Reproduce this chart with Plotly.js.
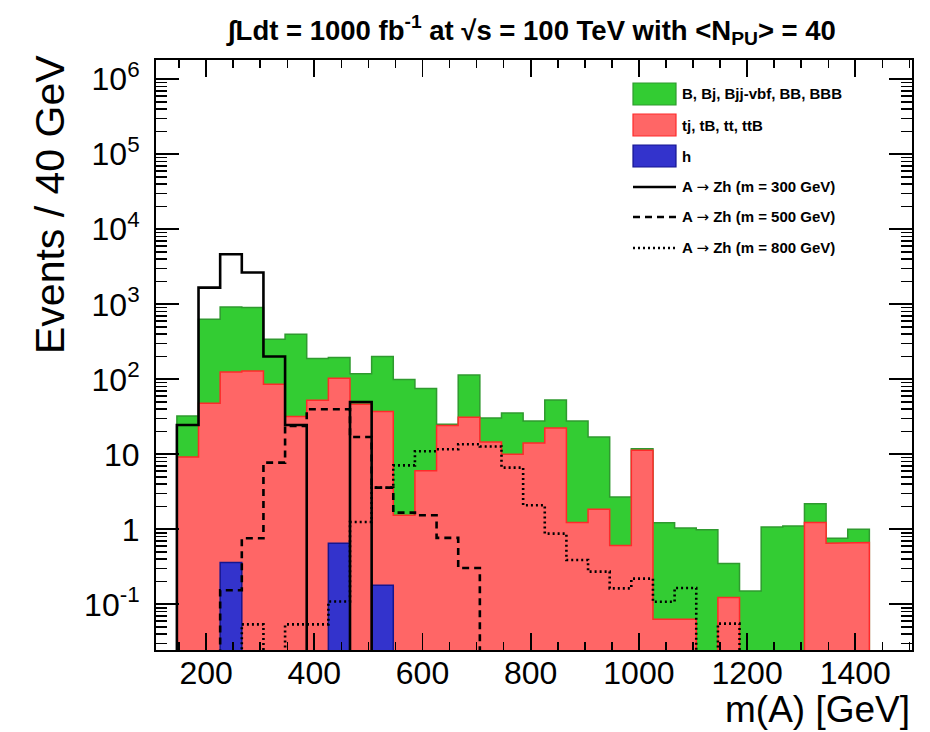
<!DOCTYPE html>
<html><head><meta charset="utf-8">
<script src="https://cdn.plot.ly/plotly-3.0.1.min.js"></script>
<style>html,body{margin:0;padding:0;background:#fff}</style>
</head><body><div id="chart" style="width:930px;height:732px"></div>
<script>
// ---- data ----
const binLow = 146, binWidth = 40;
const bkgB   = [23.2, 583, 795, 775, 255, 366, 136.5, 92, 72.6, 163.9, 97.5, 69.2, 0.8, 82.9, 15.9, 25.5, 13.6, 30.6, 26.6, 15.15, 2.09, 0.6, 1.16, 0.98, 0.99, 0.226, 0.150, 1.07, 1.11, 0.97, 0.11, 0.335];
const bkgTop = [9.2, 47.9, 124.6, 129, 85.8, 31.8, 52.5, 102.4, 46.4, 36.9, 1.54, 6.03, 24.3, 31.1, 14.6, 10, 14.2, 22.4, 1.23, 1.85, 0.61, 11.3, 0.063, 0.063, 0, 0.123, 0, 0, 0, 1.23, 0.65, 0.665];
const bkgH   = [0, 0, 0.36, 0, 0, 0, 0, 0.65, 0, 0.179, 0, 0, 0, 0, 0, 0, 0, 0, 0, 0, 0, 0, 0, 0, 0, 0, 0, 0, 0, 0, 0, 0];
const sig300 = [24.6, 1670, 4640, 2650, 201, 24.6, 0, 0, 49.8, 0, 0, 0, 0, 0, 0, 0, 0, 0, 0, 0, 0, 0, 0, 0, 0, 0, 0, 0, 0, 0, 0, 0];
const sig500 = [0, 0, 0.154, 0.759, 7.75, 23.8, 39.8, 39.8, 17, 3.6, 1.67, 1.54, 0.77, 0.305, 0, 0, 0, 0, 0, 0, 0, 0, 0, 0, 0, 0, 0, 0, 0, 0, 0, 0];
const sig800 = [0, 0, 0, 0.054, 0, 0.054, 0.054, 0.109, 1.25, 3.6, 7.13, 10.96, 11.66, 13.6, 12.7, 6.65, 2.09, 0.877, 0.39, 0.273, 0.163, 0.22, 0.108, 0.165, 0, 0.0553, 0, 0, 0, 0, 0, 0];
const legendLabels = ['B, Bj, Bjj-vbf, BB, BBB', 'tj, tB, tt, ttB', 'h',
  'A \u2192 Zh (m = 300 GeV)', 'A \u2192 Zh (m = 500 GeV)', 'A \u2192 Zh (m = 800 GeV)'];
const xTickVals = [200, 400, 600, 800, 1000, 1200, 1400];
const xTickText = ['200', '400', '600', '800', '1000', '1200', '1400'];
const yTickVals = [0.1, 1, 10, 100, 1e3, 1e4, 1e5, 1e6];
const yTickText = ['10<sup>-1</sup>', '1', '10', '10<sup>2</sup>', '10<sup>3</sup>', '10<sup>4</sup>', '10<sup>5</sup>', '10<sup>6</sup>'];
const titleText = '\u222BLdt = 1000 fb<sup>-1</sup> at \u221As = 100 TeV with &lt;N<sub>PU</sub>&gt; = 40';

// ---- build ----
const FLOOR = 1e-4;
const edge = i => binLow + i * binWidth;
function step(vals) {
  const x = [edge(0)], y = [FLOOR];
  vals.forEach((v, i) => { const yy = v > 0 ? v : FLOOR; x.push(edge(i), edge(i + 1)); y.push(yy, yy); });
  x.push(edge(vals.length)); y.push(FLOOR);
  return {x, y};
}
const stH = bkgH.slice();
const stTop = bkgTop.map((v, i) => v + stH[i]);
const stAll = bkgB.map((v, i) => v + stTop[i]);

const FONT = 'Liberation Sans, Arial, Helvetica, sans-serif';
const cGreen = '#33cc33', cGreenL = '#2f9a2f';
const cRed = '#ff6666', cRedL = '#ff2a2a';
const cBlue = '#3333cc', cBlueL = '#151590';

function fillTrace(vals, fc, lc, name) {
  const s = step(vals);
  return {x: s.x, y: s.y, type: 'scatter', mode: 'lines', fill: 'toself', fillcolor: fc,
    line: {color: lc, width: 1.5}, name, hoverinfo: 'skip', showlegend: false};
}
function lineTrace(vals, dash, name) {
  const s = step(vals);
  return {x: s.x, y: s.y, type: 'scatter', mode: 'lines',
    line: {color: 'black', width: 2.6, dash}, name, hoverinfo: 'skip', showlegend: false};
}
const traces = [
  fillTrace(stAll, cGreen, cGreenL, legendLabels[0]),
  fillTrace(stTop, cRed, cRedL, legendLabels[1]),
  fillTrace(stH, cBlue, cBlueL, legendLabels[2]),
  lineTrace(sig300, 'solid', legendLabels[3]),
  lineTrace(sig500, '7px,5px', legendLabels[4]),
  lineTrace(sig800, '2px,3px', legendLabels[5]),
];

const minorX = [];
for (let v = 150; v <= 1500; v += 50) if (v % 200 !== 0) minorX.push(v);
const minorY = [];
for (let d = -2; d <= 6; d++) for (let k = 2; k <= 9; k++) minorY.push(k * Math.pow(10, d));

// pixel -> paper helpers (plot area 156..912 x 60..650)
const L = 156, R = 912, T = 60, B = 650;
const px = p => (p - L) / (R - L);
const py = p => (B - p) / (B - T);

const shapes = [], annotations = [];
const swFill = [[cGreen, cGreenL], [cRed, cRedL], [cBlue, cBlueL]];
const rowY = [94, 125, 156, 187, 217, 248];
for (let i = 0; i < 3; i++) {
  shapes.push({type: 'rect', xref: 'paper', yref: 'paper', x0: px(633), x1: px(676),
    y0: py(rowY[i] + 11), y1: py(rowY[i] - 11), fillcolor: swFill[i][0], line: {color: swFill[i][1], width: 1.2}});
}
const dashes = ['solid', '7px,5px', '2px,3px'];
for (let i = 0; i < 3; i++) {
  shapes.push({type: 'line', xref: 'paper', yref: 'paper', x0: px(633), x1: px(676),
    y0: py(rowY[3 + i]), y1: py(rowY[3 + i]), line: {color: 'black', width: 2.4, dash: dashes[i]}});
}
legendLabels.forEach((t, i) => annotations.push({
  text: '<b>' + t.replace('\u2192', '<span style="font-family:DejaVu Sans;font-weight:normal">\u2192</span>') + '</b>',
  xref: 'paper', yref: 'paper',
  x: px(680), y: py(rowY[i]), xanchor: 'left', yanchor: 'middle', showarrow: false,
  font: {family: FONT, size: 15, color: 'black'}}));
annotations.push({text: 'm(A) [GeV]', xref: 'paper', yref: 'paper', x: px(912), y: py(709),
  xanchor: 'right', yanchor: 'middle', showarrow: false, font: {family: FONT, size: 37, color: 'black'}});
annotations.push({text: 'Events / 40 GeV', xref: 'paper', yref: 'paper', x: px(50), y: py(205),
  xanchor: 'center', yanchor: 'middle', textangle: -90, showarrow: false, font: {family: FONT, size: 41, color: 'black'}});

const axCommon = {showline: true, linecolor: 'black', linewidth: 2, mirror: 'allticks', ticks: 'inside',
  tickcolor: 'black', showgrid: false, zeroline: false, tickfont: {family: FONT, size: 32, color: 'black'}};

const layout = {
  width: 930, height: 732,
  margin: {l: L, r: 930 - R, t: T, b: 732 - B},
  paper_bgcolor: 'white', plot_bgcolor: 'white', showlegend: false,
  title: {text: titleText, x: 532 / 930, xanchor: 'center', y: 1 - 30 / 732, yanchor: 'middle',
    font: {family: FONT, size: 27.5, weight: 'bold', color: 'black'}},
  xaxis: Object.assign({}, axCommon, {range: [107.4, 1504.8], tickmode: 'array', tickvals: xTickVals, ticktext: xTickText,
    ticklen: 17, tickwidth: 1.8, ticklabelstandoff: -6,
    minor: {tickmode: 'array', tickvals: minorX, ticks: 'inside', ticklen: 8, tickwidth: 1.5, tickcolor: 'black', showgrid: false}}),
  yaxis: Object.assign({}, axCommon, {type: 'log', range: [-1.609, 6.257], tickmode: 'array', tickvals: yTickVals, ticktext: yTickText,
    ticklen: 23, tickwidth: 1.8, ticklabelstandoff: 8,
    minor: {tickmode: 'array', tickvals: minorY, ticks: 'inside', ticklen: 11, tickwidth: 1.5, tickcolor: 'black', showgrid: false}}),
  shapes, annotations
};
Plotly.newPlot('chart', traces, layout, {staticPlot: true, displayModeBar: false});
</script>
</body></html>
